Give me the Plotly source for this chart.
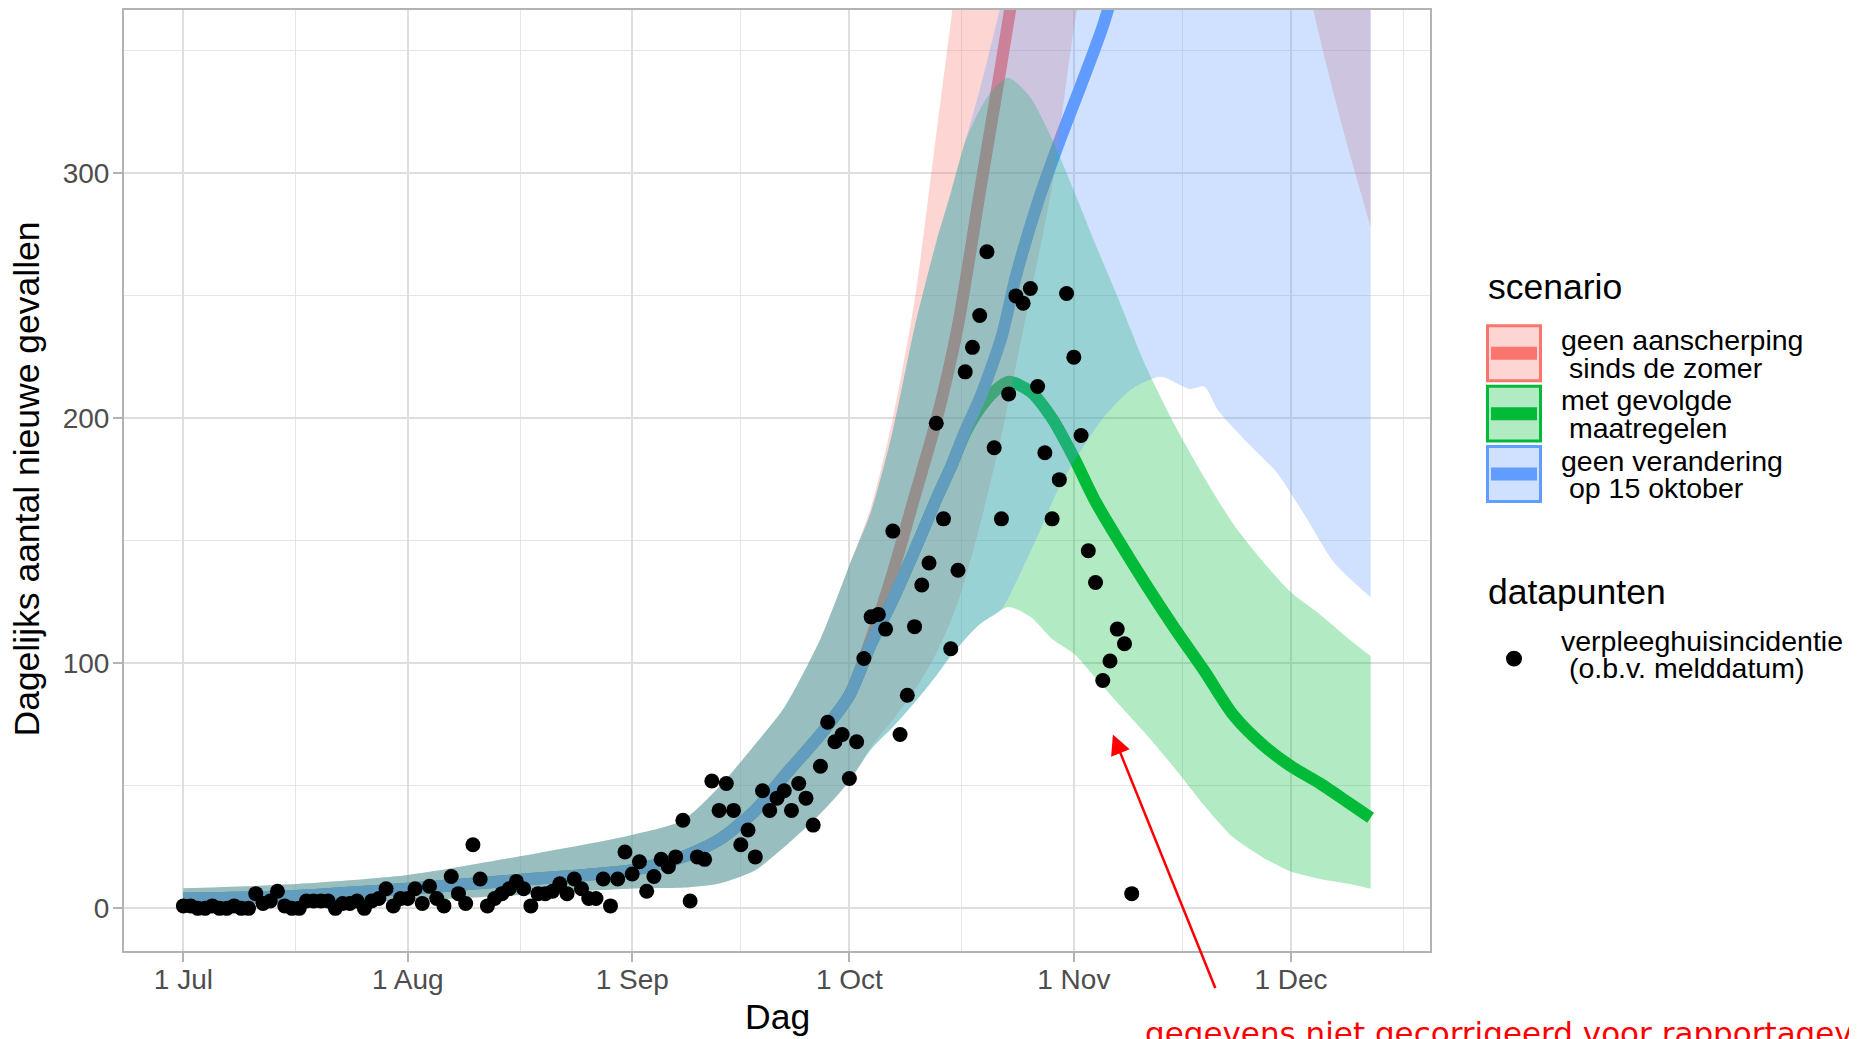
import pandas as pd
import plotly.graph_objects as go

START = pd.Timestamp("2020-07-01")

# verpleeghuisincidentie (o.b.v. melddatum), one value per day from 1 Jul
cases = [1, 1, 0, 0, 1, 0, 0, 1, 0, 0,
         6, 2, 3, 7, 1, 0, 0, 3, 3, 3,
         3, 0, 2, 2, 3, 0, 3, 4, 8, 1,
         4, 4, 8, 2, 9, 4, 1, 13, 6, 2,
         26, 12, 1, 4, 6, 8, 11, 8, 1, 6,
         6, 7, 10, 6, 12, 8, 4, 4, 12, 1,
         12, 23, 14, 19, 7, 13, 20, 17, 21, 36,
         3, 21, 20, 52, 40, 51, 40, 26, 32, 21,
         48, 40, 45, 48, 40, 51, 45, 34, 58, 76,
         68, 71, 53, 68, 102, 119, 120, 114, 154, 71,
         87, 115, 132, 141, 198, 159, 106, 138, 219, 229,
         242, 268, 188, 159, 210, 250, 247, 253, 213, 186,
         159, 175, 251, 225, 193, 146, 133, 93, 101, 114,
         108, 6]

# model runs, x = days since 1 Jul; identical for all scenarios up to 1 Oct
common_days = [0, 15, 31, 46, 62, 69, 74, 79, 83, 88, 92]
common_lower = [1.5, 2.2, 3.2, 5.4, 8.1, 8.5, 10.2, 15.6, 25, 38.7, 52]
common_mid = [4, 5, 8, 11.5, 15.6, 21, 28, 40, 54, 71, 87]
common_upper = [8.2, 9.8, 13.6, 21, 30, 36, 49.5, 67, 82, 110, 140]

red_days = [95, 98, 101, 104, 107, 110, 113, 116, 120, 124, 132, 142, 153, 156, 160, 164]
red_lower = [66, 77, 89, 104, 125, 156, 193, 236, 295, 375, 450, 480, 420, 368, 320, 278]
red_mid = [110, 137, 168, 199, 238, 292, 345, 400, 480, 560, 680, 780, 850, 860, 860, 850]
red_upper = [164, 200, 248, 316, 385, 460, 550, 640, 760, 880, 1100, 1300, 1500, 1550, 1600, 1650]

green_days = [95, 98, 101, 104, 106, 108, 110, 112, 114, 117, 120, 123, 126, 129, 133,
              137, 141, 145, 149, 153, 157, 161, 164]
green_lower = [65, 74, 84, 95, 103, 110, 116, 120, 123, 119, 110, 104, 94, 84, 71,
               57, 42, 29, 21, 15, 12, 10, 8]
green_mid = [108, 126, 146, 167, 180, 194, 204, 211, 215, 211, 200, 184, 166, 151, 132,
             114, 97, 79, 67, 58, 51, 43, 37]
green_upper = [162, 195, 237, 272, 292, 313, 326, 335, 339, 331, 314, 293, 271, 250, 221,
               197, 176, 157, 142, 129, 120, 110, 103]

blue_days = [95, 98, 101, 104, 106, 108, 110, 113, 115, 118, 121, 124, 127, 131, 135,
             139, 141, 143, 147, 151, 155, 159, 164]
blue_lower = [65, 74, 84, 95, 103, 110, 116, 122, 133, 152, 172, 187, 200, 212, 217,
              212, 213, 203, 190, 178, 160, 141, 127]
blue_mid = [108, 126, 146, 167, 180, 195, 208, 233, 258, 288, 313, 336, 360, 400, 440,
            480, 500, 520, 560, 600, 640, 680, 720]
blue_upper = [162, 195, 237, 272, 292, 313, 334, 370, 400, 450, 500, 550, 600, 660, 720,
              800, 840, 880, 960, 1040, 1120, 1200, 1300]

month_ticks = ["2020-07-01", "2020-08-01", "2020-09-01", "2020-10-01", "2020-11-01", "2020-12-01"]
month_labels = ["1 Jul", "1 Aug", "1 Sep", "1 Oct", "1 Nov", "1 Dec"]
minor_ticks = ["2020-07-16 12:00", "2020-08-16 12:00", "2020-09-16", "2020-10-16 12:00",
               "2020-11-16", "2020-12-16 12:00"]

scenarios = [
    ("geen aanscherping", "sinds de zomer", (248, 118, 109), red_days, red_lower, red_mid, red_upper),
    ("met gevolgde", "maatregelen", (0, 186, 56), green_days, green_lower, green_mid, green_upper),
    ("geen verandering", "op 15 oktober", (97, 156, 255), blue_days, blue_lower, blue_mid, blue_upper),
]

FONT = "Liberation Sans"
W, H = 1849, 1031          # page adds an 8px body margin
OFF = 8
ML, MR, MT, MB = 116, 427, 0, 88
PW, PH = W - ML - MR, H - MT - MB


def dates(days):
    return [START + pd.Timedelta(days=d) for d in days]


def px(x):
    return (x - OFF - ML) / PW


def py(y):
    return (PH - (y - OFF - MT)) / PH


def rgb(c, a=1.0):
    return "rgba(%d,%d,%d,%s)" % (c[0], c[1], c[2], a)


def label(text, x, y, size=28.5, anchor="left", color="black", family=FONT, angle=0):
    return dict(text=text, x=px(x), y=py(y), xref="paper", yref="paper",
                xanchor=anchor, yanchor="middle", showarrow=False, textangle=angle,
                font=dict(family=family, size=size, color=color))


fig = go.Figure()

# lines first, the transparent ribbons are laid over them
for l1, l2, col, days, lo, mid, up in scenarios:
    fig.add_trace(go.Scatter(x=dates(common_days + days), y=common_mid + mid, mode="lines",
                             line=dict(color=rgb(col), width=12, shape="spline", smoothing=0.7),
                             name=l1 + " " + l2, showlegend=False))

for l1, l2, col, days, lo, mid, up in scenarios:
    x = dates(common_days + days)
    fig.add_trace(go.Scatter(x=x, y=common_lower + lo, mode="lines",
                             line=dict(width=0, shape="spline", smoothing=0.7),
                             hoverinfo="skip", showlegend=False))
    fig.add_trace(go.Scatter(x=x, y=common_upper + up, mode="lines", fill="tonexty",
                             fillcolor=rgb(col, 0.3),
                             line=dict(width=0, shape="spline", smoothing=0.7),
                             hoverinfo="skip", showlegend=False))

fig.add_trace(go.Scatter(x=dates(range(len(cases))), y=cases, mode="markers",
                         marker=dict(color="black", size=15),
                         name="verpleeghuisincidentie", showlegend=False))

shapes = []
annotations = []

# legend "scenario"
annotations.append(label("scenario", 1486, 286, size=35.5))
for k, (l1, l2, col, *_rest) in enumerate(scenarios):
    top = 323.5 + k * 60.5
    shapes.append(dict(type="rect", xref="paper", yref="paper",
                       x0=px(1487.5), x1=px(1540.5), y0=py(top + 56), y1=py(top + 1),
                       fillcolor=rgb(col, 0.3), line=dict(color=rgb(col), width=3)))
    shapes.append(dict(type="line", xref="paper", yref="paper",
                       x0=px(1491), x1=px(1537), y0=py(top + 28.5), y1=py(top + 28.5),
                       line=dict(color=rgb(col), width=13)))
    annotations.append(label(l1, 1559, top + 15))
    annotations.append(label("\u00a0" + l2, 1559, top + 43))

# legend "datapunten"
annotations.append(label("datapunten", 1486, 591, size=35.5))
shapes.append(dict(type="circle", xref="paper", yref="paper",
                   x0=px(1506), x1=px(1522), y0=py(666), y1=py(650),
                   fillcolor="black", line=dict(color="black", width=0)))
annotations.append(label("verpleeghuisincidentie", 1559, 640))
annotations.append(label("\u00a0(o.b.v. melddatum)", 1559, 667))

# axis titles
annotations.append(label("Dag", 777, 1017, size=35.5, anchor="center"))
annotations.append(label("Dagelijks aantal nieuwe gevallen", 27.5, 478, size=35.5,
                         anchor="center", angle=-90))

# red note with arrow
annotations.append(label("gegevens niet gecorrigeerd voor rapportagevertraging", 1143, 1033,
                         size=31, color="red", family="DejaVu Sans"))
annotations.append(dict(text="", x=START + pd.Timedelta(days=128.4), y=71, xref="x", yref="y",
                        showarrow=True, arrowhead=2, arrowsize=1.6, arrowwidth=2.5,
                        arrowcolor="red", ax=103, ay=255, standoff=0, startstandoff=0))

fig.update_layout(
    width=W, height=H,
    margin=dict(l=ML, r=MR, t=MT, b=MB),
    plot_bgcolor="white", paper_bgcolor="white",
    showlegend=False,
    shapes=shapes, annotations=annotations,
    font=dict(family=FONT),
)
axis_style = dict(
    tickfont=dict(family=FONT, size=28, color="#4D4D4D"),
    ticks="outside", ticklen=9, tickwidth=1.5, tickcolor="#B3B3B3",
    showgrid=True, gridcolor="#DEDEDE", gridwidth=2.2,
    showline=True, linecolor="#B3B3B3", linewidth=2, mirror=True,
    zeroline=False,
)
fig.update_xaxes(
    range=[START + pd.Timedelta(days=-8.2), START + pd.Timedelta(days=172.2)],
    tickvals=month_ticks, ticktext=month_labels, ticklabelstandoff=-7,
    minor=dict(tickvals=minor_ticks, showgrid=True, gridcolor="#E6E6E6", gridwidth=1.2, ticks=""),
    **axis_style,
)
fig.update_yaxes(
    range=[-17.4, 366.7],
    tickvals=[0, 100, 200, 300], ticklabelstandoff=-2,
    minor=dict(tickvals=[50, 150, 250, 350], showgrid=True, gridcolor="#E6E6E6", gridwidth=1.2, ticks=""),
    **axis_style,
)

fig.write_html("out.html")
